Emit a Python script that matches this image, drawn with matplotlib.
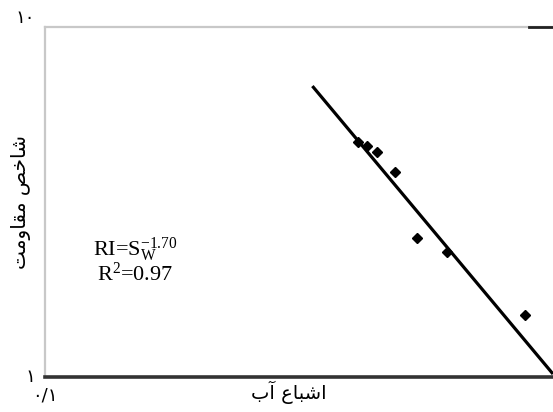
import matplotlib
matplotlib.use("Agg")
import matplotlib.pyplot as plt

# ---------------- data ----------------
sw_points = [0.414, 0.430, 0.450, 0.489, 0.540, 0.618, 0.879]
ri_points = [4.70, 4.57, 4.40, 3.86, 2.49, 2.27, 1.50]
fit_x = [0.336, 1.0]
fit_y = [6.78, 1.02]
x_ticks = [0.1]
x_tick_labels = ["۰/۱"]
y_ticks = [1, 10]
y_tick_labels = ["۱", "۱۰"]
x_label = "اشباع آب"
y_label = "شاخص مقاومت"
eq_text = r"RI=S$_{\mathrm{W}}^{\mathrm{-1.70}}$"
r2_text = r"R$^{\mathrm{2}}$=0.97"

# ------------- minimal Arabic shaping for display -------------
_FORMS = {
    "ا": (0xFE8D, 0xFE8E, None, None),
    "آ": (0xFE81, 0xFE82, None, None),
    "ب": (0xFE8F, 0xFE90, 0xFE91, 0xFE92),
    "ت": (0xFE95, 0xFE96, 0xFE97, 0xFE98),
    "ش": (0xFEB5, 0xFEB6, 0xFEB7, 0xFEB8),
    "ع": (0xFEC9, 0xFECA, 0xFECB, 0xFECC),
    "خ": (0xFEA5, 0xFEA6, 0xFEA7, 0xFEA8),
    "ص": (0xFEB9, 0xFEBA, 0xFEBB, 0xFEBC),
    "م": (0xFEE1, 0xFEE2, 0xFEE3, 0xFEE4),
    "ق": (0xFED5, 0xFED6, 0xFED7, 0xFED8),
    "و": (0xFEED, 0xFEEE, None, None),
}


def shape(text):
    out = []
    n = len(text)
    for i, ch in enumerate(text):
        if ch not in _FORMS:
            out.append(ch)
            continue
        iso, fin, ini, med = _FORMS[ch]
        prev = text[i - 1] if i > 0 else None
        nxt = text[i + 1] if i < n - 1 else None
        jp = prev in _FORMS and _FORMS[prev][2] is not None
        jn = nxt in _FORMS and ini is not None
        if jp and jn:
            cp = med
        elif jp:
            cp = fin
        elif jn:
            cp = ini
        else:
            cp = iso
        out.append(chr(cp))
    return "".join(reversed(out))


plt.rcParams["mathtext.fontset"] = "custom"
plt.rcParams["mathtext.rm"] = "Liberation Serif"
plt.rcParams["mathtext.it"] = "Liberation Serif:italic"

fig = plt.figure(figsize=(5.53, 4.12), dpi=100)
ax = fig.add_axes([45 / 553, 35 / 412, 508 / 553, 350 / 412])
ax.set_xscale("log")
ax.set_yscale("log")
ax.set_xlim(0.1, 1.0)
ax.set_ylim(1, 10)

ax.plot(fit_x, fit_y, color="black", lw=2.3, solid_capstyle="butt", zorder=3)
ax.plot(sw_points, ri_points, linestyle="none", marker="D", markersize=5.5,
        color="black", zorder=4)

ax.minorticks_off()
ax.set_xticks(x_ticks)
ax.set_xticklabels(x_tick_labels, family="DejaVu Sans", fontsize=13)
ax.set_yticks(y_ticks)
ax.set_yticklabels(y_tick_labels, family="DejaVu Sans", fontsize=13)
ax.tick_params(axis="both", length=0)
ax.tick_params(axis="x", pad=7)
ax.tick_params(axis="y", pad=7)
ylabs = ax.get_yticklabels()
ylabs[0].set_verticalalignment("center")
ylabs[1].set_verticalalignment("bottom")

for s in ["top", "left"]:
    ax.spines[s].set_color("#c8c8c8")
    ax.spines[s].set_linewidth(1.6)
ax.spines["right"].set_visible(False)
ax.spines["bottom"].set_color("#333333")
ax.spines["bottom"].set_linewidth(2.6)

# short dark segment at top right corner
ax.plot([0.952, 1.0], [1.0, 1.0], transform=ax.transAxes, color="#222222",
        lw=2, clip_on=False, zorder=5)

ax.set_xlabel(shape(x_label), family="DejaVu Sans", fontsize=14)
ax.xaxis.set_label_coords(0.48, -0.012)
ax.set_ylabel(shape(y_label), family="DejaVu Sans", fontsize=14.5)
ax.yaxis.set_label_coords(-0.028, 0.5)

ax.text(0.177, 0.363, eq_text, transform=ax.transAxes, ha="center", va="center",
        family="Liberation Serif", fontsize=16)
ax.text(0.177, 0.294, r2_text, transform=ax.transAxes, ha="center", va="center",
        family="Liberation Serif", fontsize=16)

fig.savefig("out.png", dpi=100)
